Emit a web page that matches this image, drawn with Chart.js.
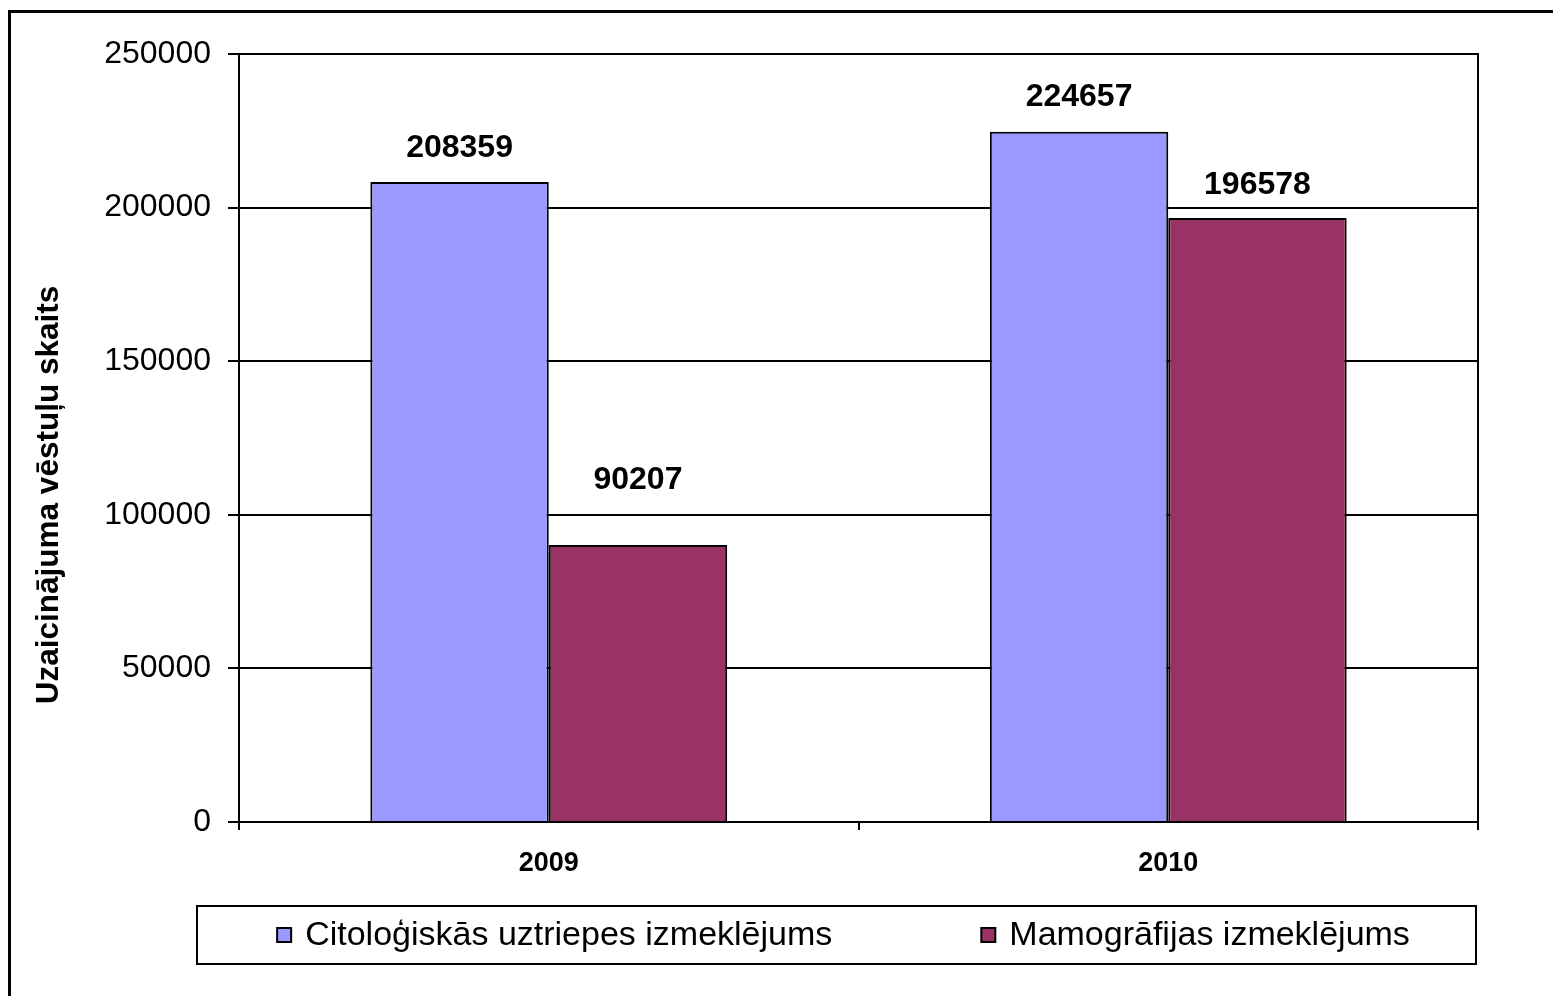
<!DOCTYPE html>
<html>
<head>
<meta charset="utf-8">
<script src="https://cdn.jsdelivr.net/npm/chart.js@4.4.0/dist/chart.umd.min.js"></script>
<style>
html,body{margin:0;padding:0;background:#fff;}
#wrap{position:relative;width:1553px;height:996px;overflow:hidden;}
#frame{position:absolute;left:8px;top:10px;width:1700px;height:1200px;border:3px solid #000;box-sizing:border-box;}
#c{position:absolute;left:0;top:0;}
</style>
</head>
<body>
<div id="wrap"><div id="frame"></div><canvas id="c" width="1553" height="996"></canvas></div>
<script>
var years=['2009','2010'];
var citoValues=[208359,224657];
var mamoValues=[90207,196578];
var seriesNames=['Citoloģiskās uztriepes izmeklējums','Mamogrāfijas izmeklējums'];
var seriesColors=['#9999FF','#993366'];
var yMin=0, yMax=250000, yStep=50000;
var yTitle='Uzaicinājuma vēstuļu skaits';

var FONT="'Liberation Sans', Arial, sans-serif";

// value labels above bars (the 90207 one sits higher in the original)
var valueLabels={
  id:'valueLabels',
  afterDatasetsDraw:function(chart){
    var ctx=chart.ctx;
    var lift=[[34,35],[65,33]];
    ctx.save();
    ctx.font='bold 32px '+FONT;
    ctx.fillStyle='#000';
    ctx.textAlign='center';
    ctx.textBaseline='middle';
    chart.data.datasets.forEach(function(ds,i){
      chart.getDatasetMeta(i).data.forEach(function(bar,j){
        ctx.fillText(String(ds.data[j]),bar.x,bar.y-lift[i][j]);
      });
    });
    ctx.restore();
  }
};

// y title centred on the whole frame, not on the plot
var sideTitle={
  id:'sideTitle',
  afterDraw:function(chart){
    var ctx=chart.ctx;
    ctx.save();
    ctx.translate(49,495);
    ctx.rotate(-Math.PI/2);
    ctx.font='bold 31.5px '+FONT;
    ctx.fillStyle='#000';
    ctx.textAlign='center';
    ctx.textBaseline='middle';
    ctx.fillText(yTitle,0,0);
    ctx.restore();
  }
};

// boxed legend under the axis
var boxLegend={
  id:'boxLegend',
  afterDraw:function(chart){
    var ctx=chart.ctx, a=chart.chartArea;
    var top=chart.scales.x.bottom, h=58;
    var left=a.left-42, right=a.right-2;
    ctx.save();
    ctx.lineWidth=2;
    ctx.strokeStyle='#000';
    ctx.strokeRect(left,top,right-left,h);
    ctx.font='34px '+FONT;
    var box=14, gap=14, itemGap=149;
    var widths=chart.data.datasets.map(function(ds){return box+gap+ctx.measureText(ds.label).width;});
    var total=widths.reduce(function(s,w){return s+w;},0)+itemGap*(widths.length-1);
    var x=(left+right)/2-total/2+7, cy=top+h/2;
    chart.data.datasets.forEach(function(ds,i){
      ctx.fillStyle=ds.backgroundColor;
      ctx.fillRect(x,cy-box/2,box,box);
      ctx.strokeRect(x,cy-box/2,box,box);
      ctx.fillStyle='#000';
      ctx.textAlign='left';
      ctx.textBaseline='middle';
      ctx.fillText(ds.label,x+box+gap,cy+1);
      x+=widths[i]+itemGap;
    });
    ctx.restore();
  }
};

new Chart(document.getElementById('c'),{
  type:'bar',
  data:{
    labels:years,
    datasets:[
      {label:seriesNames[0],data:citoValues,backgroundColor:seriesColors[0],borderColor:'#000',borderWidth:2},
      {label:seriesNames[1],data:mamoValues,backgroundColor:seriesColors[1],borderColor:'#000',borderWidth:2}
    ]
  },
  options:{
    responsive:false,
    animation:false,
    devicePixelRatio:1,
    categoryPercentage:0.576,
    barPercentage:1,
    layout:{padding:{left:0,right:75,top:54,bottom:90}},
    plugins:{legend:{display:false},tooltip:{enabled:false}},
    scales:{
      x:{
        offset:true,
        grid:{offset:true,drawOnChartArea:false,drawTicks:true,tickLength:8,color:'#000',lineWidth:2},
        border:{color:'#000',width:2},
        ticks:{color:'#000',font:{family:FONT,size:27,weight:'bold'},padding:17},
        afterFit:function(s){s.height=84;}
      },
      y:{
        min:yMin,max:yMax,
        ticks:{stepSize:yStep,color:'#000',font:{family:FONT,size:32},padding:17,callback:function(v){return String(v);}},
        grid:{color:'#000',lineWidth:2,tickLength:11},
        border:{color:'#000',width:2},
        afterFit:function(s){s.width=239;}
      },
      y2:{
        position:'right',
        min:yMin,max:yMax,
        ticks:{display:false},
        grid:{drawOnChartArea:false,drawTicks:false},
        border:{color:'#000',width:2},
        afterFit:function(s){s.width=0;}
      }
    }
  },
  plugins:[valueLabels,sideTitle,boxLegend]
});
</script>
</body>
</html>
